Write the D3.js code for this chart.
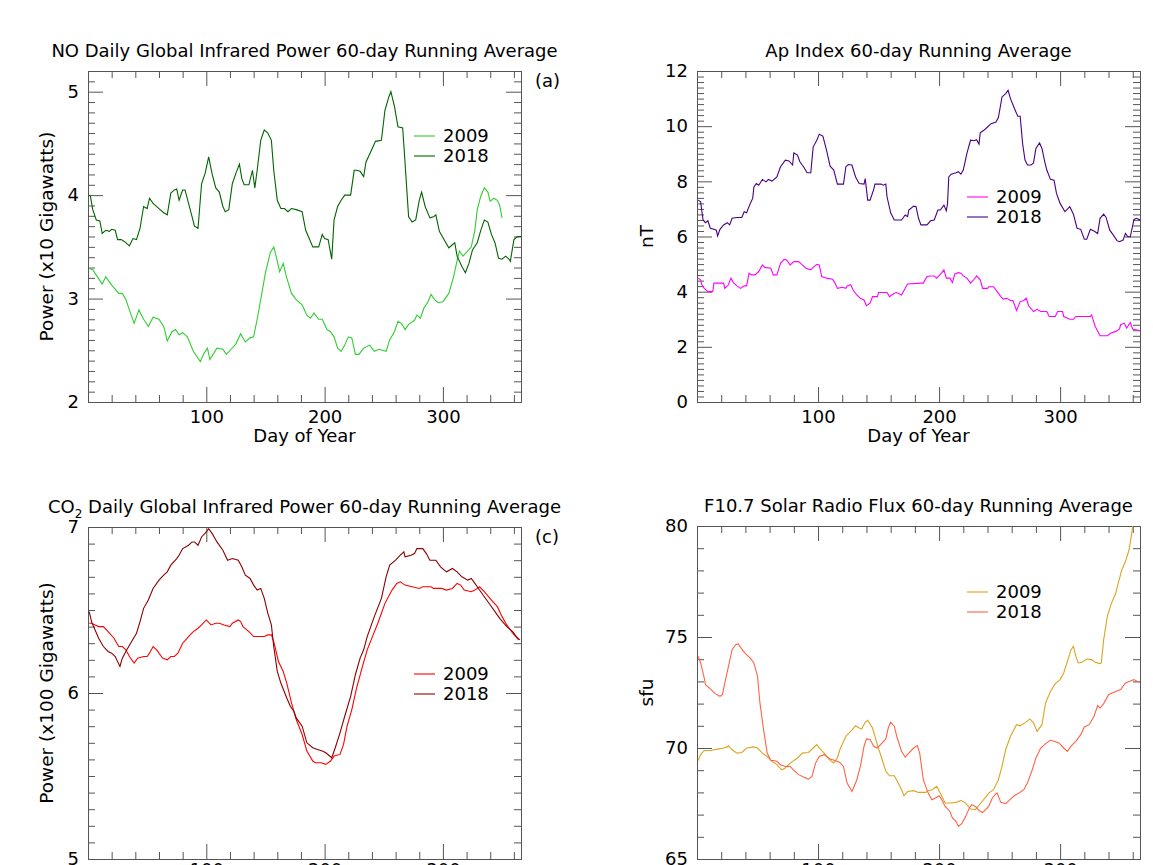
<!DOCTYPE html>
<html>
<head>
<meta charset="utf-8">
<title>60-day Running Averages</title>
<script src="https://d3js.org/d3.v7.min.js"></script>
<style>
  body { margin: 0; background: #fff; }
  text { font-family: "DejaVu Sans", sans-serif; fill: #000; }
  .axis path, .axis line { stroke: #555; stroke-width: 1px; }
  .series { fill: none; stroke-width: 1.1px; }
</style>
</head>
<body>
<svg id="chart" width="1153" height="865"></svg>
<script>
// ---- data: [day of year, value] ----
var no2009 = [[1,3.29],[4,3.28],[8,3.21],[12,3.14],[15,3.21],[20,3.13],[26,3.05],[29,3.05],[32,2.99],[35,2.89],[39,2.76],[43,2.89],[47,2.80],[51,2.73],[55,2.82],[60,2.80],[64,2.73],[67,2.59],[71,2.68],[74,2.70],[77,2.65],[80,2.67],[84,2.63],[89,2.49],[95,2.39],[98,2.47],[101,2.52],[103,2.41],[109,2.52],[114,2.51],[117,2.46],[121,2.51],[125,2.56],[129,2.66],[133,2.58],[137,2.62],[140,2.63],[143,2.80],[146,2.99],[150,3.25],[154,3.44],[157,3.50],[159,3.41],[162,3.26],[165,3.34],[168,3.20],[172,3.05],[176,2.99],[181,2.94],[185,2.84],[188,2.81],[191,2.86],[195,2.80],[198,2.80],[202,2.70],[205,2.68],[208,2.63],[211,2.52],[214,2.49],[217,2.55],[220,2.63],[223,2.62],[226,2.46],[229,2.46],[233,2.52],[238,2.55],[242,2.49],[246,2.51],[252,2.49],[255,2.60],[259,2.68],[262,2.78],[265,2.76],[268,2.70],[271,2.75],[276,2.79],[278,2.84],[281,2.81],[284,2.91],[287,2.96],[290,3.04],[293,2.99],[296,2.96],[300,2.97],[305,3.05],[309,3.21],[312,3.37],[314,3.46],[317,3.41],[321,3.46],[324,3.50],[327,3.66],[329,3.86],[332,3.99],[335,4.07],[338,4.03],[340,3.94],[343,3.97],[346,3.95],[348,3.90],[350,3.78]];
var no2018 = [[1,4.00],[2,3.99],[4,3.86],[7,3.76],[10,3.75],[12,3.63],[15,3.66],[18,3.65],[20,3.67],[23,3.66],[25,3.57],[28,3.57],[31,3.55],[35,3.51],[38,3.58],[41,3.57],[44,3.68],[47,3.89],[50,3.87],[52,3.97],[55,3.92],[60,3.87],[64,3.83],[67,3.81],[70,4.02],[73,4.05],[75,4.06],[77,3.95],[80,4.05],[82,4.05],[85,3.92],[88,3.79],[90,3.70],[93,3.68],[96,4.11],[99,4.21],[102,4.37],[105,4.20],[108,4.07],[111,4.03],[114,3.89],[116,3.84],[119,3.86],[122,4.11],[125,4.21],[128,4.30],[130,4.16],[132,4.10],[136,4.10],[139,4.24],[141,4.07],[143,4.24],[146,4.53],[149,4.63],[152,4.60],[155,4.53],[157,4.24],[160,3.95],[163,3.87],[166,3.87],[169,3.84],[172,3.87],[176,3.86],[181,3.84],[184,3.66],[187,3.58],[190,3.50],[192,3.50],[195,3.50],[198,3.62],[200,3.58],[203,3.57],[206,3.38],[208,3.76],[211,3.89],[214,3.95],[217,4.00],[222,4.00],[225,4.24],[227,4.24],[230,4.23],[233,4.18],[235,4.32],[239,4.42],[243,4.52],[248,4.53],[251,4.82],[254,4.94],[256,5.00],[259,4.86],[262,4.66],[266,4.65],[268,4.31],[271,3.79],[274,3.74],[277,3.76],[280,3.95],[282,4.03],[285,3.89],[289,3.78],[292,3.79],[294,3.81],[297,3.65],[302,3.55],[305,3.49],[308,3.52],[310,3.54],[312,3.41],[316,3.31],[319,3.25],[322,3.34],[325,3.47],[329,3.54],[332,3.66],[335,3.76],[338,3.74],[341,3.62],[344,3.54],[347,3.39],[350,3.38],[353,3.41],[356,3.38],[357,3.36],[360,3.57],[363,3.60],[366,3.60]];

var ap2009 = [[1,4.49],[3,4.43],[4,4.25],[6,4.12],[9,4.00],[13,4.00],[14,4.31],[19,4.31],[22,4.31],[23,4.12],[26,4.25],[28,4.49],[30,4.33],[33,4.21],[36,4.12],[39,4.21],[41,4.21],[43,4.67],[45,4.61],[48,4.61],[51,4.73],[54,4.97],[56,4.88],[61,4.85],[63,4.61],[66,4.61],[69,5.03],[72,5.17],[74,5.15],[77,4.97],[80,5.09],[84,5.09],[87,4.97],[90,4.85],[94,4.79],[96,4.88],[99,4.99],[101,4.97],[103,4.55],[107,4.49],[112,4.45],[114,4.31],[116,4.12],[120,4.16],[123,4.12],[124,4.21],[127,4.25],[129,4.06],[132,3.88],[135,3.76],[138,3.70],[140,3.49],[143,3.58],[145,3.82],[149,3.82],[150,3.97],[157,3.97],[159,3.82],[163,3.94],[165,3.97],[169,3.88],[172,4.12],[174,4.28],[185,4.31],[187,4.31],[190,4.55],[193,4.57],[196,4.57],[198,4.49],[202,4.67],[204,4.79],[206,4.49],[209,4.49],[211,4.33],[213,4.64],[216,4.69],[218,4.67],[220,4.57],[223,4.49],[226,4.31],[229,4.45],[231,4.57],[234,4.43],[236,4.12],[240,4.12],[241,4.18],[245,4.18],[248,4.00],[251,3.82],[253,3.73],[256,3.76],[259,3.68],[261,3.68],[264,3.32],[267,3.64],[270,3.68],[272,3.76],[274,3.49],[278,3.28],[281,3.36],[284,3.28],[289,3.28],[291,3.10],[296,3.10],[298,3.28],[302,3.28],[303,3.10],[308,3.00],[311,3.00],[313,3.10],[318,3.10],[325,3.10],[326,3.16],[329,2.74],[333,2.40],[339,2.40],[342,2.50],[346,2.56],[349,2.64],[350,2.80],[353,2.86],[355,2.68],[358,2.88],[360,2.64],[366,2.59]];
var ap2018 = [[1,7.32],[3,7.26],[5,6.60],[7,6.50],[9,6.57],[11,6.30],[14,6.26],[16,6.23],[17,6.02],[19,6.26],[22,6.42],[25,6.50],[27,6.42],[29,6.66],[33,6.69],[37,6.69],[39,6.90],[41,6.86],[44,7.20],[46,7.38],[47,7.80],[49,7.92],[51,7.86],[54,8.07],[57,7.98],[59,8.07],[62,8.01],[66,8.16],[69,8.53],[73,8.77],[76,8.74],[79,8.59],[80,9.03],[83,8.95],[85,8.71],[88,8.53],[91,8.31],[94,8.31],[96,9.25],[99,9.49],[101,9.71],[104,9.64],[107,9.13],[110,8.55],[113,8.41],[116,7.90],[121,7.90],[123,8.53],[125,8.61],[128,8.59],[131,8.16],[134,7.92],[138,7.90],[139,8.10],[141,7.32],[143,7.32],[146,7.71],[147,7.90],[152,7.90],[154,7.86],[156,7.90],[157,7.44],[160,6.86],[163,6.60],[165,6.60],[169,6.60],[172,6.78],[174,6.72],[175,6.96],[179,7.10],[181,7.08],[183,6.66],[185,6.42],[190,6.42],[193,6.57],[196,6.60],[199,6.96],[201,6.96],[204,7.14],[206,6.93],[207,7.20],[208,8.16],[210,8.26],[214,8.31],[216,8.35],[218,8.26],[220,8.41],[223,9.01],[226,9.49],[229,9.47],[231,9.51],[233,9.35],[234,9.76],[237,9.85],[240,9.97],[243,10.09],[247,10.15],[249,10.31],[252,11.06],[255,11.18],[257,11.30],[259,11.00],[262,10.67],[265,10.36],[267,10.36],[269,9.37],[271,8.77],[273,8.59],[276,8.59],[278,8.67],[280,9.19],[283,9.39],[285,9.19],[287,8.77],[289,8.41],[292,8.07],[295,8.04],[297,7.56],[300,7.20],[304,6.90],[308,7.08],[311,6.81],[314,6.30],[317,6.26],[320,5.90],[322,5.90],[325,6.26],[328,6.20],[331,6.11],[333,6.66],[336,6.81],[338,6.69],[341,6.23],[344,6.05],[347,5.85],[349,5.81],[352,5.87],[354,6.11],[356,5.99],[358,5.99],[361,6.62],[363,6.66],[366,6.60]];

var co2009 = [[1,6.42],[3,6.42],[6,6.41],[9,6.40],[13,6.40],[17,6.37],[22,6.33],[26,6.28],[29,6.28],[32,6.26],[35,6.22],[39,6.18],[42,6.21],[47,6.22],[50,6.22],[52,6.24],[55,6.28],[58,6.26],[63,6.21],[67,6.20],[70,6.22],[73,6.22],[76,6.24],[80,6.30],[85,6.34],[89,6.37],[93,6.39],[96,6.41],[100,6.44],[104,6.41],[108,6.42],[111,6.42],[115,6.41],[120,6.40],[122,6.42],[127,6.44],[129,6.43],[131,6.40],[136,6.37],[140,6.34],[144,6.34],[149,6.34],[152,6.35],[155,6.35],[157,6.31],[161,6.19],[165,6.13],[168,6.06],[172,5.94],[176,5.84],[181,5.75],[185,5.65],[190,5.59],[192,5.58],[197,5.58],[201,5.57],[205,5.59],[208,5.62],[213,5.63],[216,5.69],[219,5.80],[223,5.90],[227,6.03],[232,6.16],[236,6.26],[241,6.35],[245,6.42],[251,6.54],[257,6.62],[261,6.66],[264,6.67],[268,6.65],[274,6.64],[280,6.63],[283,6.64],[286,6.64],[290,6.64],[292,6.63],[296,6.63],[299,6.63],[303,6.62],[308,6.63],[312,6.66],[315,6.65],[318,6.62],[324,6.61],[327,6.62],[331,6.64],[335,6.61],[341,6.56],[346,6.52],[350,6.46],[354,6.41],[359,6.36],[364,6.32]];
var co2018 = [[1,6.49],[3,6.43],[6,6.38],[9,6.33],[13,6.28],[17,6.25],[20,6.24],[23,6.22],[27,6.16],[29,6.21],[32,6.25],[36,6.30],[41,6.36],[44,6.43],[47,6.51],[51,6.56],[55,6.63],[60,6.68],[64,6.71],[67,6.73],[70,6.77],[75,6.81],[77,6.83],[80,6.87],[85,6.89],[88,6.91],[90,6.91],[93,6.89],[96,6.94],[100,6.97],[102,6.99],[105,6.96],[109,6.91],[114,6.86],[118,6.80],[122,6.81],[127,6.80],[130,6.76],[133,6.71],[137,6.69],[140,6.65],[143,6.62],[146,6.63],[149,6.57],[152,6.48],[155,6.41],[157,6.28],[160,6.13],[163,6.06],[168,5.97],[171,5.92],[174,5.89],[176,5.85],[181,5.80],[185,5.70],[190,5.67],[194,5.66],[198,5.65],[201,5.64],[206,5.61],[209,5.67],[213,5.76],[217,5.86],[222,5.98],[226,6.11],[230,6.21],[233,6.26],[236,6.34],[239,6.40],[242,6.46],[248,6.57],[252,6.70],[255,6.77],[260,6.80],[264,6.83],[267,6.85],[268,6.82],[273,6.83],[276,6.84],[278,6.87],[283,6.87],[286,6.84],[289,6.80],[294,6.80],[298,6.76],[303,6.73],[308,6.75],[312,6.73],[316,6.70],[321,6.68],[324,6.69],[327,6.66],[329,6.64],[335,6.58],[340,6.53],[344,6.49],[348,6.45],[354,6.40],[359,6.37],[362,6.34],[365,6.32]];

var f107_2009 = [[1,69.44],[3,69.70],[6,69.89],[11,69.89],[17,69.95],[22,70.00],[25,70.05],[26,70.10],[29,69.92],[33,69.77],[37,69.80],[41,70.00],[47,70.05],[50,70.00],[54,69.77],[58,69.62],[62,69.40],[66,69.25],[70,69.02],[73,69.10],[77,69.32],[83,69.55],[87,69.77],[92,69.80],[96,70.00],[99,70.15],[101,70.00],[105,69.77],[109,69.50],[113,69.32],[116,69.55],[118,69.92],[123,70.53],[127,70.75],[131,71.00],[134,70.90],[136,70.85],[139,71.16],[141,71.25],[145,70.90],[149,70.15],[153,69.47],[156,68.95],[159,68.75],[163,68.75],[165,68.56],[169,68.12],[171,67.85],[174,68.04],[179,68.08],[183,68.00],[189,68.00],[191,68.08],[194,68.11],[198,68.27],[201,67.96],[205,67.52],[209,67.52],[214,67.55],[218,67.64],[222,67.52],[226,67.25],[230,67.22],[234,67.49],[238,67.75],[241,67.97],[245,68.12],[249,68.57],[252,69.17],[255,69.92],[259,70.53],[264,71.05],[267,71.00],[271,71.13],[275,71.31],[278,71.13],[281,70.75],[285,71.05],[288,72.03],[292,72.55],[296,72.90],[300,73.08],[303,73.38],[306,73.90],[309,74.43],[311,74.58],[313,74.13],[315,73.83],[318,73.86],[322,74.01],[326,73.98],[329,73.86],[333,73.80],[334,73.83],[336,74.88],[339,75.93],[342,76.46],[346,76.98],[348,77.43],[351,78.03],[354,78.41],[357,78.93],[359,79.61],[360,80.00],[362,80.60]];
var f107_2018 = [[1,74.13],[3,73.83],[6,73.15],[7,72.85],[11,72.66],[15,72.45],[19,72.33],[21,72.40],[23,72.93],[26,73.68],[29,74.43],[32,74.65],[34,74.70],[37,74.45],[40,74.25],[44,74.05],[47,73.83],[50,73.23],[52,72.03],[55,70.83],[58,69.77],[61,69.44],[63,69.44],[66,69.40],[69,69.25],[73,69.17],[77,69.17],[80,68.99],[84,68.80],[88,68.69],[92,68.60],[95,68.72],[98,69.32],[101,69.62],[105,69.70],[107,69.62],[110,69.50],[114,69.44],[118,69.35],[121,69.17],[124,68.42],[128,68.04],[132,68.56],[135,69.17],[138,70.08],[140,70.41],[143,70.38],[146,70.08],[149,70.00],[153,70.23],[156,70.41],[158,70.90],[160,71.16],[163,70.98],[165,70.53],[169,69.85],[172,69.59],[175,69.77],[179,70.00],[182,70.11],[184,69.77],[187,68.56],[191,67.97],[194,67.67],[197,67.75],[200,67.85],[202,67.70],[205,67.37],[209,67.14],[211,66.85],[214,66.70],[216,66.47],[219,66.62],[222,66.92],[225,67.30],[227,67.45],[230,67.37],[233,67.18],[236,67.09],[238,67.20],[241,67.37],[244,67.75],[247,67.94],[248,67.97],[251,67.55],[255,67.49],[258,67.64],[262,67.85],[266,67.97],[270,68.12],[273,68.42],[277,69.02],[280,69.55],[284,70.00],[288,70.20],[292,70.35],[295,70.30],[299,70.23],[303,70.00],[306,69.85],[309,70.08],[313,70.30],[317,70.60],[320,70.95],[324,71.05],[328,71.43],[331,71.91],[333,71.80],[336,72.00],[340,72.40],[343,72.48],[346,72.55],[350,72.63],[354,72.93],[357,73.00],[361,73.08],[364,73.00],[366,72.96]];

var years = ["2009", "2018"];
var xMajorTicks = [100, 200, 300];

// ---- panel layout ----
var panels = [
  { key: "a", series: [no2009, no2018], colors: ["#32cd32", "#006400"],
    box: { l: 88, r: 521, t: 71, b: 402 }, yDomain: [2, 5.2], yMajor: [2, 3, 4, 5], yMinorStep: 0.1,
    title: "NO Daily Global Infrared Power 60-day Running Average", yLabel: "Power (x10 Gigawatts)", yLabelX: 53,
    xTitle: true, xLabelPad: 8, legend: { x: 414, y: 136 }, letter: "(a)" },
  { key: "b", series: [ap2009, ap2018], colors: ["#ff00ff", "#4b0082"],
    box: { l: 697, r: 1140, t: 71, b: 402 }, yDomain: [0, 12], yMajor: [0, 2, 4, 6, 8, 10, 12], yMinorStep: 0.2,
    title: "Ap Index 60-day Running Average", yLabel: "nT", yLabelX: 653,
    xTitle: true, xLabelPad: 8, legend: { x: 967, y: 197 } },
  { key: "c", series: [co2009, co2018], colors: ["#ff0000", "#8b0000"],
    box: { l: 88, r: 521, t: 527, b: 859 }, yDomain: [5, 7], yMajor: [5, 6, 7], yMinorStep: 0.1,
    title: "CO2", yLabel: "Power (x100 Gigawatts)", yLabelX: 53,
    xTitle: false, xLabelPad: 4, legend: { x: 414, y: 674 }, letter: "(c)" },
  { key: "d", series: [f107_2009, f107_2018], colors: ["#daa520", "#ff6347"],
    box: { l: 697, r: 1140, t: 526, b: 859 }, yDomain: [65, 80], yMajor: [65, 70, 75, 80], yMinorStep: 1,
    title: "F10.7 Solar Radio Flux 60-day Running Average", yLabel: "sfu", yLabelX: 653,
    xTitle: false, xLabelPad: 4, legend: { x: 967, y: 592 } }
];

var svg = d3.select("#chart");
svg.append("rect").attr("width", 1153).attr("height", 865).attr("fill", "#fff");

panels.forEach(function(p) {
  var b = p.box;
  var x = d3.scaleLinear().domain([0, 366]).range([b.l, b.r]);
  var y = d3.scaleLinear().domain(p.yDomain).range([b.b, b.t]);

  var xMinor = d3.range(20, 366, 20).filter(function(d) { return d % 100 !== 0; });
  var n0 = Math.round(p.yDomain[0] / p.yMinorStep), n1 = Math.round(p.yDomain[1] / p.yMinorStep);
  var yMinor = d3.range(n0, n1 + 1).map(function(i) { return +(i * p.yMinorStep).toFixed(3); })
    .filter(function(v) { return p.yMajor.indexOf(v) < 0; });

  var g = svg.append("g");

  // clip for lines
  svg.append("clipPath").attr("id", "clip-" + p.key)
    .append("rect").attr("x", b.l).attr("y", b.t).attr("width", b.r - b.l).attr("height", b.b - b.t);

  // bottom
  g.append("g").attr("class", "axis").attr("transform", "translate(0," + b.b + ")")
    .call(d3.axisBottom(x).tickValues(xMinor).tickSizeInner(-7).tickSizeOuter(0).tickFormat(""));
  g.append("g").attr("class", "axis").attr("transform", "translate(0," + b.b + ")")
    .call(d3.axisBottom(x).tickValues(xMajorTicks).tickSizeInner(-15).tickSizeOuter(0).tickPadding(p.xLabelPad))
    .selectAll("text").style("font-size", "18px").style("font-family", "DejaVu Sans").attr("fill", "#000");
  // top
  g.append("g").attr("class", "axis").attr("transform", "translate(0," + b.t + ")")
    .call(d3.axisTop(x).tickValues(xMinor).tickSizeInner(-7).tickSizeOuter(0).tickFormat(""));
  g.append("g").attr("class", "axis").attr("transform", "translate(0," + b.t + ")")
    .call(d3.axisTop(x).tickValues(xMajorTicks).tickSizeInner(-15).tickSizeOuter(0).tickFormat(""));
  // left
  g.append("g").attr("class", "axis").attr("transform", "translate(" + b.l + ",0)")
    .call(d3.axisLeft(y).tickValues(yMinor).tickSizeInner(-7).tickSizeOuter(0).tickFormat(""));
  g.append("g").attr("class", "axis").attr("transform", "translate(" + b.l + ",0)")
    .call(d3.axisLeft(y).tickValues(p.yMajor).tickSizeInner(-15).tickSizeOuter(0).tickPadding(9).tickFormat(d3.format("d")))
    .selectAll("text").style("font-size", "18px").style("font-family", "DejaVu Sans").attr("fill", "#000");
  // right
  g.append("g").attr("class", "axis").attr("transform", "translate(" + b.r + ",0)")
    .call(d3.axisRight(y).tickValues(yMinor).tickSizeInner(-7).tickSizeOuter(0).tickFormat(""));
  g.append("g").attr("class", "axis").attr("transform", "translate(" + b.r + ",0)")
    .call(d3.axisRight(y).tickValues(p.yMajor).tickSizeInner(-15).tickSizeOuter(0).tickFormat(""));

  // series
  var line = d3.line().x(function(d) { return x(d[0]); }).y(function(d) { return y(d[1]); });
  var lines = g.append("g").attr("clip-path", "url(#clip-" + p.key + ")");
  p.series.forEach(function(s, i) {
    lines.append("path").attr("class", "series").attr("d", line(s)).attr("stroke", p.colors[i]);
  });

  // title
  var cx = (b.l + b.r) / 2;
  var t = g.append("text").attr("x", cx).attr("y", b.t - 14).attr("text-anchor", "middle")
    .style("font-size", "18px");
  if (p.title === "CO2") {
    t.append("tspan").text("CO");
    t.append("tspan").attr("dy", 5).style("font-size", "12px").text("2");
    t.append("tspan").attr("dy", -5).text(" Daily Global Infrared Power 60-day Running Average");
  } else {
    t.text(p.title);
  }

  // y label
  g.append("text").attr("transform", "translate(" + p.yLabelX + "," + ((b.t + b.b) / 2) + ") rotate(-90)")
    .attr("text-anchor", "middle").style("font-size", "18.5px").text(p.yLabel);

  // x label
  if (p.xTitle) {
    g.append("text").attr("x", cx).attr("y", b.b + 40).attr("text-anchor", "middle")
      .style("font-size", "18px").text("Day of Year");
  }

  // legend
  years.forEach(function(yr, i) {
    var ly = p.legend.y + i * 20;
    g.append("line").attr("x1", p.legend.x).attr("x2", p.legend.x + 21)
      .attr("y1", ly).attr("y2", ly).attr("stroke", p.colors[i]).attr("stroke-width", 1.1);
    g.append("text").attr("x", p.legend.x + 29).attr("y", ly).attr("dy", "0.36em")
      .style("font-size", "18px").text(yr);
  });

  if (p.letter) {
    g.append("text").attr("x", b.r + 14).attr("y", b.t + 16).style("font-size", "18px").text(p.letter);
  }
});
</script>
</body>
</html>
